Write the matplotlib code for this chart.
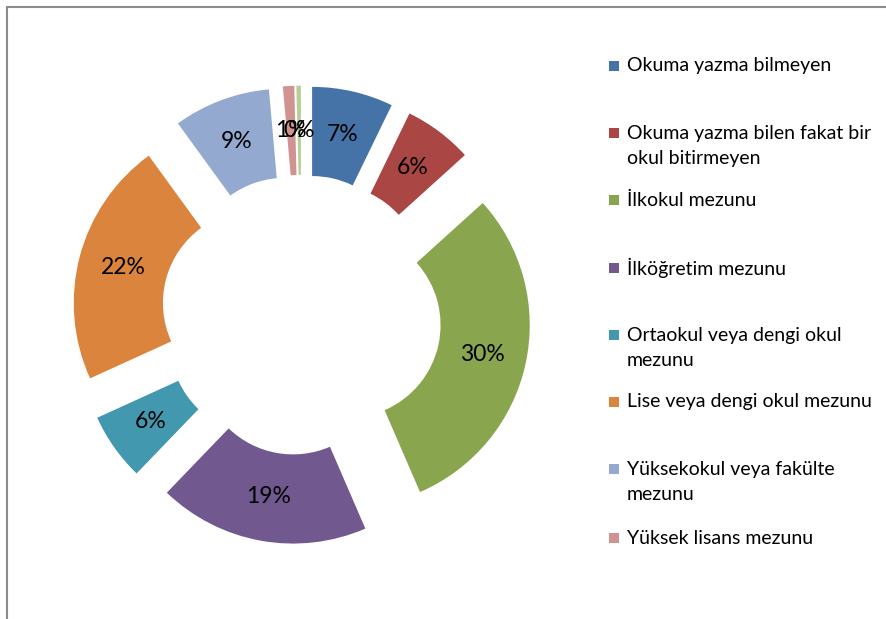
import matplotlib
matplotlib.use('Agg')
import matplotlib.pyplot as plt
from matplotlib.patches import Rectangle

plt.rcParams['font.family'] = ['Lato', 'DejaVu Sans']

# education levels (share of respondents, %)
categories = ['Okuma yazma bilmeyen', 'Okuma yazma bilen fakat bir okul bitirmeyen',
              'İlkokul mezunu', 'İlköğretim mezunu', 'Ortaokul veya dengi okul mezunu',
              'Lise veya dengi okul mezunu', 'Yüksekokul veya fakülte mezunu',
              'Yüksek lisans mezunu', 'Doktora mezunu']
values = [7.2, 6.1, 30.2, 18.7, 6.0, 21.8, 8.6, 1.0, 0.4]
colors = ['#4572A7', '#AA4643', '#89A54E', '#71588F', '#4198AF',
          '#DB843D', '#93A9CF', '#D19392', '#B9CD96']
# legend text as it wraps in the original
legend_labels = ['Okuma yazma bilmeyen',
                 'Okuma yazma bilen fakat bir\nokul bitirmeyen',
                 'İlkokul mezunu',
                 'İlköğretim mezunu',
                 'Ortaokul veya dengi okul\nmezunu',
                 'Lise veya dengi okul mezunu',
                 'Yüksekokul veya fakülte\nmezunu',
                 'Yüksek lisans mezunu']
legend_y = [66, 133, 200, 268, 335, 402, 469, 538]

W, H = 887, 619
fig = plt.figure(figsize=(W / 100, H / 100), dpi=100)

# donut axes: center at (301.5, 315) px, outer radius ~182 px
cx, cy, R, lim = 301.5, 315, 182, 1.4
side = 2 * lim * R
ax = fig.add_axes([(cx - side / 2) / W, (H - cy - side / 2) / H, side / W, side / H])

wedges, texts, autotexts = ax.pie(values, colors=colors, startangle=90, counterclock=False,
                                  explode=[0.26] * len(values), radius=1.0,
                                  wedgeprops=dict(width=0.49, linewidth=0),
                                  autopct='%1.0f%%', pctdistance=0.755,
                                  textprops=dict(fontsize=16.5, color='black'))
ax.set_xlim(-lim, lim)
ax.set_ylim(-lim, lim)
ax.axis('off')

# legend drawn by hand to keep Excel's uneven spacing
for lab, y, c in zip(legend_labels, legend_y, colors):
    fig.add_artist(Rectangle((609 / W, 1 - (y + 5) / H), 10 / W, 10 / H,
                             transform=fig.transFigure, facecolor=c, edgecolor='none'))
    for i, line in enumerate(lab.split('\n')):
        fig.text(627 / W, 1 - (y + 26 * i) / H, line, fontsize=14,
                 va='center', ha='left', color='black')

# chart area border (only top and left edge visible)
fig.add_artist(Rectangle((7 / W, -0.1), 1.2, (H - 7) / H + 0.1, transform=fig.transFigure,
                         fill=False, edgecolor='#8c8c8c', linewidth=1.5))

fig.savefig('out.png', dpi=100)
